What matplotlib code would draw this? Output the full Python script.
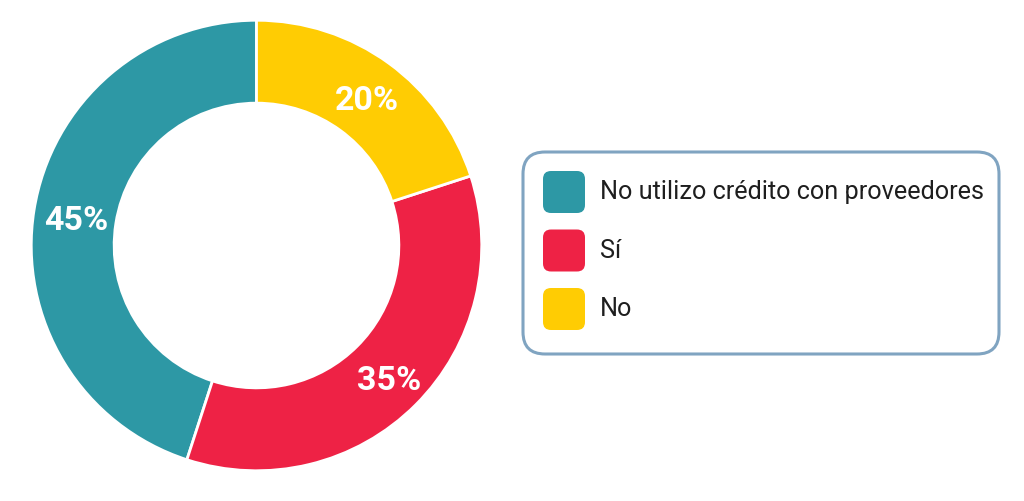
import matplotlib
matplotlib.use("Agg")
import matplotlib.pyplot as plt
from matplotlib.patches import FancyBboxPatch

# Respuestas sobre crédito con proveedores
labels = ["No utilizo crédito con proveedores", "Sí", "No"]
values = [45, 35, 20]
colors = ["#2D98A5", "#EE2245", "#FFCC03"]

plt.rcParams["font.family"] = ["Roboto", "DejaVu Sans"]

fig = plt.figure(figsize=(10.24, 5.01), dpi=100)
W, H = 1024, 501

# donut
ax = fig.add_axes([29 / W, 28 / H, 455 / W, 455 / H])
wedges, texts, autotexts = ax.pie(
    values, colors=colors, startangle=90, counterclock=True,
    radius=1, autopct="%d%%", pctdistance=0.82,
    wedgeprops=dict(width=0.368, edgecolor="white", linewidth=2),
    textprops=dict(color="white", fontsize=24.5, fontweight="bold"))
for t in autotexts:
    x, y = t.get_position()
    t.set_position((x + 0.008, y - 0.02))
ax.set_xlim(-1.01, 1.01)
ax.set_ylim(-1.01, 1.01)
ax.set_aspect("equal")

# legend drawn in pixel coords
lax = fig.add_axes([0, 0, 1, 1])
lax.set_xlim(0, W)
lax.set_ylim(H, 0)
lax.axis("off")
lax.add_patch(FancyBboxPatch((532, 161), 458, 184,
                             boxstyle="round,pad=9,rounding_size=22",
                             facecolor="white", edgecolor="#80A4C1", linewidth=2.2))
for i, (lab, col) in enumerate(zip(labels, colors)):
    y0 = 171 + i * 58.5
    lax.add_patch(FancyBboxPatch((547, y0 + 4), 34, 34,
                                 boxstyle="round,pad=4,rounding_size=8",
                                 facecolor=col, edgecolor="none"))
    lax.text(600, y0 + 21, lab, fontsize=18.2, color="#1E1E1E", va="center", ha="left")

fig.savefig("out.png", dpi=100, facecolor="white")
